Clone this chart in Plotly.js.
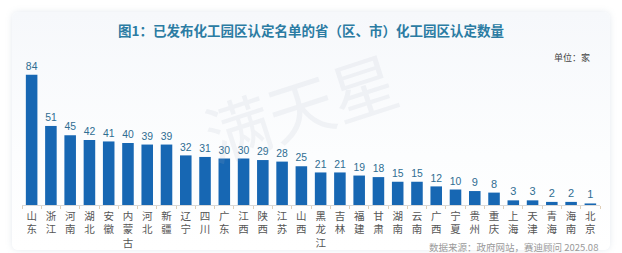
<!DOCTYPE html>
<html>
<head>
<meta charset="utf-8">
<script src="https://cdn.plot.ly/plotly-3.0.1.min.js"></script>
<style>
  html, body { margin: 0; padding: 0; background: #ffffff; width: 622px; height: 253px; overflow: hidden; }
  #card { position: absolute; left: 12px; top: 12px; width: 598px; height: 238px; border-radius: 6px;
          background: linear-gradient(#f6f8fb, #fcfdfe 60%, #ffffff);
          box-shadow: 0 0 6px rgba(150,170,190,0.25); }
  #chart { position: absolute; left: 0; top: 0; width: 622px; height: 253px; }
</style>
</head>
<body>
<div id="card"></div>
<div id="chart"></div>
<script>
const provinces = ["山东","浙江","河南","湖北","安徽","内蒙古","河北","新疆","辽宁","四川","广东","江西","陕西","江苏","山西","黑龙江","吉林","福建","甘肃","湖南","云南","广西","宁夏","贵州","重庆","上海","天津","青海","海南","北京"];
const counts = [84,51,45,42,41,40,39,39,32,31,30,30,29,28,25,21,21,19,18,15,15,12,10,9,8,3,3,2,2,1];
const titleText = "图1：已发布化工园区认定名单的省（区、市）化工园区认定数量";
const unitText = "单位：家";
const sourceText = "数据来源：政府网站，赛迪顾问 2025.08";

const tickLabels = provinces.map(p => p.split("").join("<br>"));
const font = "'Noto Sans CJK SC', 'Noto Sans', sans-serif";

const trace = {
  type: "bar",
  x: provinces,
  y: counts,
  marker: { color: "#1767b3" },
  text: counts.map(String),
  textposition: "outside",
  cliponaxis: false,
  textfont: { family: "Arial, 'Liberation Sans', sans-serif", size: 11, color: "#2f6d92" },
  hoverinfo: "x+y"
};

const layout = {
  width: 622, height: 253,
  margin: { l: 22, r: 22, t: 50, b: 48 },
  paper_bgcolor: "rgba(0,0,0,0)",
  plot_bgcolor: "rgba(0,0,0,0)",
  bargap: 0.4,
  showlegend: false,
  title: { text: "<b>" + titleText + "</b>", x: 0.5, xanchor: "center", y: 0.875, yanchor: "middle",
           font: { family: font, size: 13.5, color: "#2b7ca3" } },
  xaxis: {
    type: "category",
    tickvals: provinces,
    ticktext: tickLabels,
    tickangle: 0,
    ticklabelstandoff: 1,
    tickfont: { family: font, size: 10.5, color: "#555555" },
    showline: true, linecolor: "#d8d8d8", linewidth: 1,
    ticks: "outside", tickson: "boundaries", ticklen: 3, tickcolor: "#e0cfb8",
    showgrid: false, zeroline: false, fixedrange: true
  },
  yaxis: { range: [0, 100], visible: false, showgrid: false, zeroline: false, fixedrange: true },
  annotations: [
    { text: unitText, xref: "paper", yref: "paper", x: 592, y: 57, xanchor: "right", yanchor: "middle",
      showarrow: false, font: { family: font, size: 9, color: "#444444" } },
    { text: sourceText, xref: "paper", yref: "paper", x: 0, y: 0, showarrow: false,
      font: { family: font, size: 9.5, color: "#9a9a9a" }, xanchor: "right", yanchor: "middle" },
    { text: "满天星", xref: "paper", yref: "paper", x: 0.5, y: 0.7, showarrow: false, textangle: -18,
      font: { family: font, size: 66, color: "rgba(170,180,195,0.13)" } }
  ]
};

// convert pixel positions for annotations to paper coordinates
const pw = 622 - 22 - 22, ph = 253 - 50 - 48;
function px2paper(px, py) { return [(px - 22) / pw, (253 - 48 - py) / ph]; }
let p = px2paper(592, 57); layout.annotations[0].x = p[0]; layout.annotations[0].y = p[1];
p = px2paper(600, 247); layout.annotations[1].x = p[0]; layout.annotations[1].y = p[1];
p = px2paper(300, 105); layout.annotations[2].x = p[0]; layout.annotations[2].y = p[1];

Plotly.newPlot("chart", [trace], layout, { displayModeBar: false, staticPlot: true });
</script>
</body>
</html>
